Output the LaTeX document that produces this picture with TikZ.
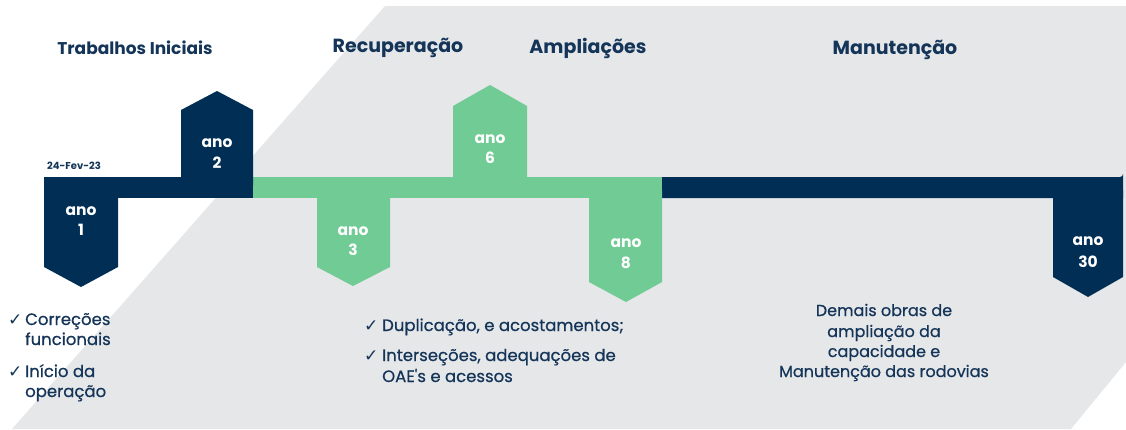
\documentclass[tikz,border=0pt]{standalone}
\usepackage{fontspec}
\setmainfont{Poppins}
\newfontfamily\symfont{DejaVu Sans}
\newfontfamily\pmed[FakeBold=0.6]{Poppins}
\definecolor{navy}{RGB}{0,46,84}
\definecolor{grn}{RGB}{112,203,148}
\definecolor{bggrey}{RGB}{229,231,233}
\definecolor{txtnavy}{RGB}{20,52,88}
\tikzset{
  heading/.style={font=\bfseries\fontsize{19}{22}\selectfont, text=txtnavy, inner sep=0pt},
  boxlbl/.style={font=\bfseries\fontsize{15.5}{18}\selectfont, text=white, inner sep=0pt, anchor=base},
  bullettxt/.style={font=\pmed\fontsize{16.5}{19}\selectfont, text=txtnavy, inner sep=0pt, anchor=base west},
  chk/.style={font=\symfont\fontsize{17}{19}\selectfont, text=txtnavy, inner sep=0pt, anchor=base west},
  desctxt/.style={font=\pmed\fontsize{16}{19}\selectfont, text=txtnavy, inner sep=0pt, anchor=base},
}
\begin{document}
\begin{tikzpicture}[x=1pt,y=-1pt]
\useasboundingbox (0,0) rectangle (1126,429);
% grey background band
\fill[bggrey] (385,6) -- (1126,6) -- (1126,362) -- (1071,429) -- (12,429) -- cycle;
% main bar
\fill[navy] (44,177) rectangle (253,198);
\fill[grn] (253,177) rectangle (662,198);
\fill[navy] (662,198) -- (662,177) -- (1120,177) arc[start angle=90,end angle=0,radius=3] -- (1123,198) -- cycle;
% markers
\fill[navy] (44,190) -- (118,190) -- (118,267) -- (81,287) -- (44,267) -- cycle;
\fill[navy] (181,185) -- (181,110) -- (217,91) -- (253,110) -- (253,185) -- cycle;
\fill[grn] (317,190) -- (390,190) -- (390,267) -- (353,286) -- (317,267) -- cycle;
\fill[grn] (453,185) -- (453,106) -- (490,85) -- (527,106) -- (527,185) -- cycle;
\fill[grn] (589,190) -- (662,190) -- (662,282) -- (626,302) -- (589,282) -- cycle;
\fill[navy] (1053,190) -- (1123,190) -- (1123,277) -- (1088,297) -- (1053,277) -- cycle;
% marker labels
\node[boxlbl] (a1) at (81,215) {ano};
\node[boxlbl] (n1) at (81,235) {1};
\node[boxlbl] (a2) at (217,147) {ano};
\node[boxlbl] (n2) at (217,168) {2};
\node[boxlbl] (a3) at (353,235) {ano};
\node[boxlbl] (n3) at (353,255) {3};
\node[boxlbl] (a6) at (490,143) {ano};
\node[boxlbl] (n6) at (490,163) {6};
\node[boxlbl] (a8) at (626,247) {ano};
\node[boxlbl] (n8) at (626,268) {8};
\node[boxlbl] (a30) at (1088,245) {ano};
\node[boxlbl] (n30) at (1088,267) {30};
% date
\node[font=\bfseries\fontsize{10}{12}\selectfont, text=txtnavy, inner sep=0pt, anchor=base west] (date) at (47,169) {24-Fev-23};
% headings
\node[heading, font=\bfseries\fontsize{17}{20}\selectfont] (h1) at (135,48) {Trabalhos Iniciais};
\node[heading] (h2) at (398,48) {Recuperação};
\node[heading] (h3) at (588,48) {Ampliações};
\node[heading] (h4) at (895,50) {Manutenção};
% left bullets
\node[chk] (c1) at (8,325) {✓};
\node[bullettxt] (b1a) at (25,325) {Correções};
\node[bullettxt] (b1b) at (25,345) {funcionais};
\node[chk] (c2) at (8,377) {✓};
\node[bullettxt] (b2a) at (25,377) {Início da};
\node[bullettxt] (b2b) at (25,397) {operação};
% middle bullets
\node[chk] (c3) at (364,331) {✓};
\node[bullettxt] (b3) at (382,331) {Duplicação, e acostamentos;};
\node[chk] (c4) at (364,361) {✓};
\node[bullettxt] (b4a) at (382,361) {Interseções, adequações de};
\node[bullettxt] (b4b) at (382,382) {OAE's e acessos};
% right description
\node[desctxt] (d1) at (884,316) {Demais obras de};
\node[desctxt] (d2) at (884,337) {ampliação da};
\node[desctxt] (d3) at (884,357) {capacidade e};
\node[desctxt] (d4) at (884,377) {Manutenção das rodovias};
\end{tikzpicture}
\end{document}
